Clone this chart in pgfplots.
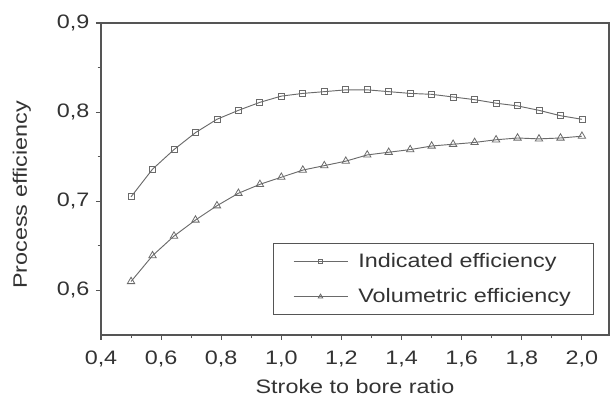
\documentclass[border=0pt]{standalone}
\usepackage{fontspec}
\setmainfont{Liberation Sans}[FakeStretch=1.2]
\usepackage{pgfplots}
\pgfplotsset{compat=1.18}
\definecolor{axgray}{HTML}{555555}
\definecolor{lngray}{HTML}{6A6A6A}
\definecolor{txtgray}{HTML}{333333}
\newcommand\fs{\fontsize{14.6}{17.5}\selectfont}
\begin{document}
\fs
\begin{tikzpicture}
\begin{axis}[name=ax, scale only axis, width=381pt, height=234pt,
  xmin=0.4, xmax=2.09, ymin=0.55, ymax=0.9,
  xtick={0.4,0.6,0.8,1.0,1.2,1.4,1.6,1.8,2.0},
  ytick={0.6,0.7,0.8,0.9},
  minor x tick num=1, minor y tick num=1,
  tick pos=left, tick align=outside,
  major tick length=3.75pt, minor tick length=2.5pt,
  axis line style={axgray, line width=1pt},
  every tick/.style={axgray, line width=0.8pt},
  tick label style={font=\fs, text=txtgray},
  xticklabel shift=3.4pt,
  /pgf/number format/use comma,
  /pgf/number format/fixed,
  /pgf/number format/fixed zerofill,
  /pgf/number format/precision=1,
  /pgf/number format/assume math mode=true,
  xlabel={Stroke to bore ratio},
  ylabel={Process efficiency},
  xlabel style={at={(axis description cs:0.5,-0.186)}, anchor=base, font=\fs, text=txtgray},
  ylabel style={at={(axis description cs:-0.1457,0.449)}, anchor=base, rotate=0, font=\fs, text=txtgray},
  legend style={at={(axis description cs:0.9705,0.064)}, anchor=south east,
    draw=axgray, line width=0.8pt, font=\fs, text=txtgray,
    inner xsep=15pt, inner ysep=5pt, row sep=9.5pt,
    /tikz/every odd column/.append style={column sep=5.75pt}},
  legend cell align=left,
  legend image code/.code={\draw[mark repeat=2,mark phase=2,every mark/.append style={scale=0.6}] plot coordinates {(0pt,0pt) (20.25pt,0pt) (40.5pt,0pt)};},
]
\addplot[lngray, line width=0.7pt, mark=square, mark size=2.25pt, mark options={solid, fill=white, line width=0.6pt}]
coordinates {
(0.5,0.705) (0.5714,0.736) (0.6429,0.758) (0.7143,0.777) (0.7857,0.792)
(0.8571,0.802) (0.9286,0.811) (1.0,0.818) (1.0714,0.821) (1.1429,0.823)
(1.2143,0.825) (1.2857,0.825) (1.3571,0.823) (1.4286,0.821) (1.5,0.820)
(1.5714,0.817) (1.6429,0.814) (1.7143,0.810) (1.7857,0.807) (1.8571,0.802)
(1.9286,0.796) (2.0,0.792)
};
\addlegendentry{Indicated efficiency}
\addplot[lngray, line width=0.7pt, mark=triangle, mark size=3.2pt, mark options={solid, fill=white, line width=0.6pt}]
coordinates {
(0.5,0.610) (0.5714,0.639) (0.6429,0.661) (0.7143,0.679) (0.7857,0.695)
(0.8571,0.709) (0.9286,0.719) (1.0,0.727) (1.0714,0.735) (1.1429,0.740)
(1.2143,0.745) (1.2857,0.752) (1.3571,0.755) (1.4286,0.758) (1.5,0.762)
(1.5714,0.764) (1.6429,0.766) (1.7143,0.769) (1.7857,0.771) (1.8571,0.770)
(1.9286,0.771) (2.0,0.773)
};
\addlegendentry{Volumetric efficiency}
\end{axis}
\pgfresetboundingbox
\path ([shift={(-75.75pt,-47.25pt)}]ax.south west) rectangle ([shift={(0.75pt,17.25pt)}]ax.north east);
\end{tikzpicture}
\end{document}
